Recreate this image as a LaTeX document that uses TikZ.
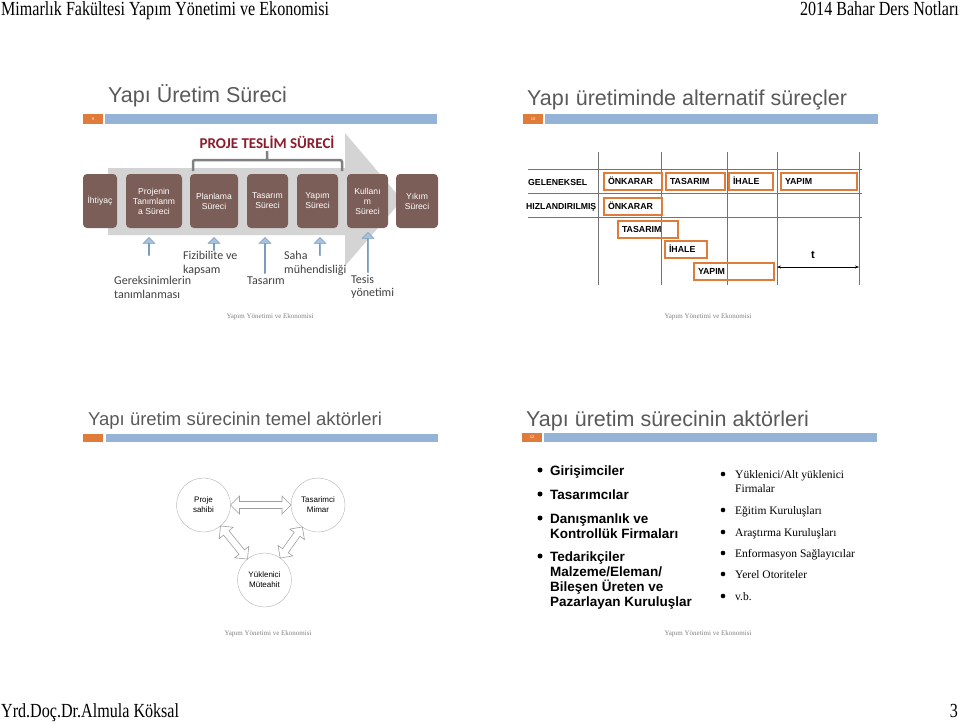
\documentclass[tikz,border=0pt]{standalone}
\usepackage{fontspec}
\setmainfont{Liberation Serif}
\setsansfont{Liberation Sans}
\newfontfamily\calibri{Carlito}
\usetikzlibrary{arrows.meta, calc, shapes.arrows}

\definecolor{titlegrey}{HTML}{595959}
\definecolor{slideorange}{HTML}{E07B39}
\definecolor{slideblue}{HTML}{95B3D7}
\definecolor{boxbrown}{HTML}{7B5E57}
\definecolor{darkred}{HTML}{8C1C2C}
\definecolor{arrowblue}{HTML}{A5C2DE}
\definecolor{arrowedge}{HTML}{7C9CBE}
\definecolor{bigarrow}{HTML}{D4D4D4}
\definecolor{labelgrey}{HTML}{404040}

\tikzset{
  pagetext/.style={inner sep=0, font=\fontsize{20}{24}\selectfont, xscale=0.805},
  title/.style={anchor=west, inner sep=0, text=titlegrey, font=\sffamily\fontsize{21.5}{25}\selectfont},
  numtext/.style={inner sep=0, text=white, font=\sffamily\fontsize{4}{5}\selectfont},
  slidefoot/.style={inner sep=0, text=gray, font=\fontsize{7}{8}\selectfont},
  procbox/.style={fill=boxbrown, rounded corners=4, text=white, align=center, minimum height=54,
    inner sep=1, font=\sffamily\fontsize{8.6}{10}\selectfont},
  bluearrow/.style={single arrow, draw=arrowedge, fill=arrowblue, minimum width=12,
    single arrow head extend=3, single arrow head indent=0, inner sep=0, rotate=90,
    anchor=tip, line width=0.6},
  lbl/.style={anchor=north west, inner sep=0, align=left, text=labelgrey,
    font=\calibri\fontsize{12}{13.5}\selectfont},
  rowlabel/.style={anchor=west, inner sep=0, font=\sffamily\bfseries\fontsize{8.7}{10}\selectfont},
  tbox/.style={draw=slideorange, line width=2, anchor=north west, align=left, inner xsep=4,
    inner ysep=5.25, text height=6.5, text depth=0,
    font=\sffamily\bfseries\fontsize{8.8}{10}\selectfont},
  actor/.style={circle, draw=gray!60, minimum size=54, inner sep=0, align=center,
    font=\sffamily\fontsize{8}{10}\selectfont},
  hollow/.style={draw=gray!75, fill=white, line width=0.6},
  blist/.style={anchor=north west, inner sep=0, align=left, font=\sffamily\bfseries\fontsize{13.5}{15}\selectfont},
  slist/.style={anchor=north west, inner sep=0, align=left, font=\fontsize{11.5}{14}\selectfont}
}

% hollow two-headed arrow between two circles
\newcommand{\dblarrow}[2]{%
  \draw[hollow] let \p1=($(#1)!27pt!(#2)$), \p2=($(#2)!27pt!(#1)$),
    \p3=($(#2)-(#1)$), \n1={atan2(\y3,\x3)} in
    (\p1) -- ($(\p1)+(\n1:9pt)+(\n1+90:9pt)$) -- ($(\p1)+(\n1:9pt)+(\n1+90:3.5pt)$)
    -- ($(\p2)+(\n1:-9pt)+(\n1+90:3.5pt)$) -- ($(\p2)+(\n1:-9pt)+(\n1+90:9pt)$)
    -- (\p2) -- ($(\p2)+(\n1:-9pt)+(\n1-90:9pt)$) -- ($(\p2)+(\n1:-9pt)+(\n1-90:3.5pt)$)
    -- ($(\p1)+(\n1:9pt)+(\n1-90:3.5pt)$) -- ($(\p1)+(\n1:9pt)+(\n1-90:9pt)$) -- cycle;}

\begin{document}
\begin{tikzpicture}[x=1pt, y=-1pt]
    \useasboundingbox (0,0) rectangle (960,721);
    \fill[white] (0,0) rectangle (960,721);

    % page header and footer
    \node[pagetext, anchor=base west] (hdleft) at (1,15) {Mimarlık Fakültesi Yapım Yönetimi ve Ekonomisi};
    \node[pagetext, anchor=base east] (hdright) at (959,15) {2014 Bahar Ders Notları};
    \node[pagetext, anchor=base west] (ftleft) at (1,717) {Yrd.Doç.Dr.Almula Köksal};
    \node[pagetext, anchor=base east] (ftright) at (958,717) {3};

    % slide 9
    \node[title] (t9) at (108,96) {Yapı Üretim Süreci};
    \fill[slideorange] (83,114) rectangle (103,124);
    \fill[slideblue] (105,114) rectangle (437,124);
    \node[numtext] (n9) at (93,119) {9};
    \fill[bigarrow] (108,168) -- (345,168) -- (345,133) -- (402,200) -- (345,266) -- (345,235) -- (108,235) -- cycle;
    \draw[gray, line width=2.5, rounded corners=2] (193,171) -- (193,160) -- (342,160) -- (342,171) (267,160) -- (267,151);
    \node[inner sep=0, text=darkred, font=\calibri\bfseries\fontsize{15}{17}\selectfont] (pts) at (267,142) {PROJE TESLİM SÜRECİ};

    \node[procbox, minimum width=34] (ihtiyac) at (100,201) {İhtiyaç};
    \node[procbox, minimum width=56] (tanim) at (154,201) {Projenin\\Tanımlanm\\a Süreci};
    \node[procbox, minimum width=48] (planlama) at (214,201) {Planlama\\Süreci};
    \node[procbox, minimum width=41] (tasarim) at (267.5,201) {Tasarım\\Süreci};
    \node[procbox, minimum width=41] (yapim) at (317.5,201) {Yapım\\Süreci};
    \node[procbox, minimum width=41] (kullanim) at (367.5,201) {Kullanı\\m\\Süreci};
    \node[procbox, minimum width=42] (yikim) at (417,201) {Yıkım\\Süreci};

    \node[bluearrow, minimum height=18] (a1) at (149,237) {};
    \node[bluearrow, minimum height=13] (a2) at (214,237) {};
    \node[bluearrow, minimum height=36] (a3) at (265,237) {};
    \node[bluearrow, minimum height=18] (a4) at (320,237) {};
    \node[bluearrow, minimum height=40] (a5) at (368,232) {};

    \node[lbl] (fiz) at (183,251) {Fizibilite ve\\kapsam};
    \node[lbl] (saha) at (284,251) {Saha\\mühendisliği};
    \node[lbl] (gerek) at (114,276) {Gereksinimlerin\\tanımlanması};
    \node[lbl] (tas) at (247,277) {Tasarım};
    \node[lbl] (tesis) at (351,275) {Tesis\\yönetimi};
    \node[slidefoot] (f9) at (270,317) {Yapım Yönetimi ve Ekonomisi};

    % slide 10
    \node[title] (t10) at (527,100) {Yapı üretiminde alternatif süreçler};
    \fill[slideorange] (523,114) rectangle (543,124);
    \fill[slideblue] (545,114) rectangle (878,124);
    \node[numtext] (n10) at (533,119) {10};
    \draw[gray!90!black, line width=0.8] (598,152) -- (598,285) (661,152) -- (661,285)
      (727,152) -- (727,285) (777,152) -- (777,285) (859,152) -- (859,285);
    \draw[gray!90!black, line width=0.8] (528,169) -- (862,169) (528,193) -- (862,193) (528,217) -- (862,217);
    \node[rowlabel] (gel) at (528,182) {GELENEKSEL};
    \node[rowlabel] (hiz) at (526,207) {HIZLANDIRILMIŞ};
    \node[tbox, text width=50] (g1) at (603,172) {ÖNKARAR};
    \node[tbox, text width=51] (g2) at (665,172) {TASARIM};
    \node[tbox, text width=36] (g3) at (728,172) {İHALE};
    \node[tbox, text width=68] (g4) at (780,172) {YAPIM};
    \node[tbox, text width=50] (h1) at (603,196.5) {ÖNKARAR};
    \node[tbox, text width=52] (h2) at (617,220) {TASARIM};
    \node[tbox, text width=34] (h3) at (664,240) {İHALE};
    \node[tbox, text width=72] (h4) at (693,261.5) {YAPIM};
    \coordinate (tstart) at (777,267);
    \coordinate (tend) at (859,267);
    \draw[{Stealth[length=4pt,width=3pt]}-{Stealth[length=4pt,width=3pt]}, line width=0.6] (tstart) -- (tend);
    \node[inner sep=0, font=\sffamily\bfseries\fontsize{11}{12}\selectfont] (tlabel) at (813,255) {t};
    \node[slidefoot] (f10) at (708,317) {Yapım Yönetimi ve Ekonomisi};

    % slide 11
    \node[title, font=\sffamily\fontsize{18.5}{22}\selectfont] (t11) at (88,421) {Yapı üretim sürecinin temel aktörleri};
    \fill[slideorange] (83,434) rectangle (103,442);
    \fill[slideblue] (106,434) rectangle (438,442);
    \node[actor] (owner) at (203.5,505) {Proje\\sahibi};
    \node[actor] (designer) at (318,505) {Tasarimci\\Mimar};
    \node[actor] (contractor) at (264.5,580) {Yüklenici\\Müteahit};
    \dblarrow{owner}{designer}
    \dblarrow{owner}{contractor}
    \dblarrow{designer}{contractor}
    \node[slidefoot] (f11) at (268,634) {Yapım Yönetimi ve Ekonomisi};

    % slide 12
    \node[title] (t12) at (526,421) {Yapı üretim sürecinin aktörleri};
    \fill[slideorange] (522,433) rectangle (542,442);
    \fill[slideblue] (544,433) rectangle (877,442);
    \node[numtext] (n12) at (532,437.5) {12};
    \foreach \y in {470,494,518,556} \fill (540,\y) circle (2.5);
    \node[blist] (b1) at (550,465.5) {Girişimciler};
    \node[blist] (b2) at (550,489.5) {Tasarımcılar};
    \node[blist] (b3) at (550,513.5) {Danışmanlık ve\\Kontrollük Firmaları};
    \node[blist] (b4) at (550,551.5) {Tedarikçiler\\Malzeme/Eleman/\\Bileşen Üreten ve\\Pazarlayan Kuruluşlar};
    \foreach \y in {474,510,532,553,574,596} \fill (723,\y) circle (2.3);
    \node[slist] (r1) at (735,470) {Yüklenici/Alt yüklenici\\Firmalar};
    \node[slist] (r2) at (735,506) {Eğitim Kuruluşları};
    \node[slist] (r3) at (735,528) {Araştırma Kuruluşları};
    \node[slist] (r4) at (735,549) {Enformasyon Sağlayıcılar};
    \node[slist] (r5) at (735,570) {Yerel Otoriteler};
    \node[slist] (r6) at (735,592) {v.b.};
    \node[slidefoot] (f12) at (708,634) {Yapım Yönetimi ve Ekonomisi};
\end{tikzpicture}
\end{document}
